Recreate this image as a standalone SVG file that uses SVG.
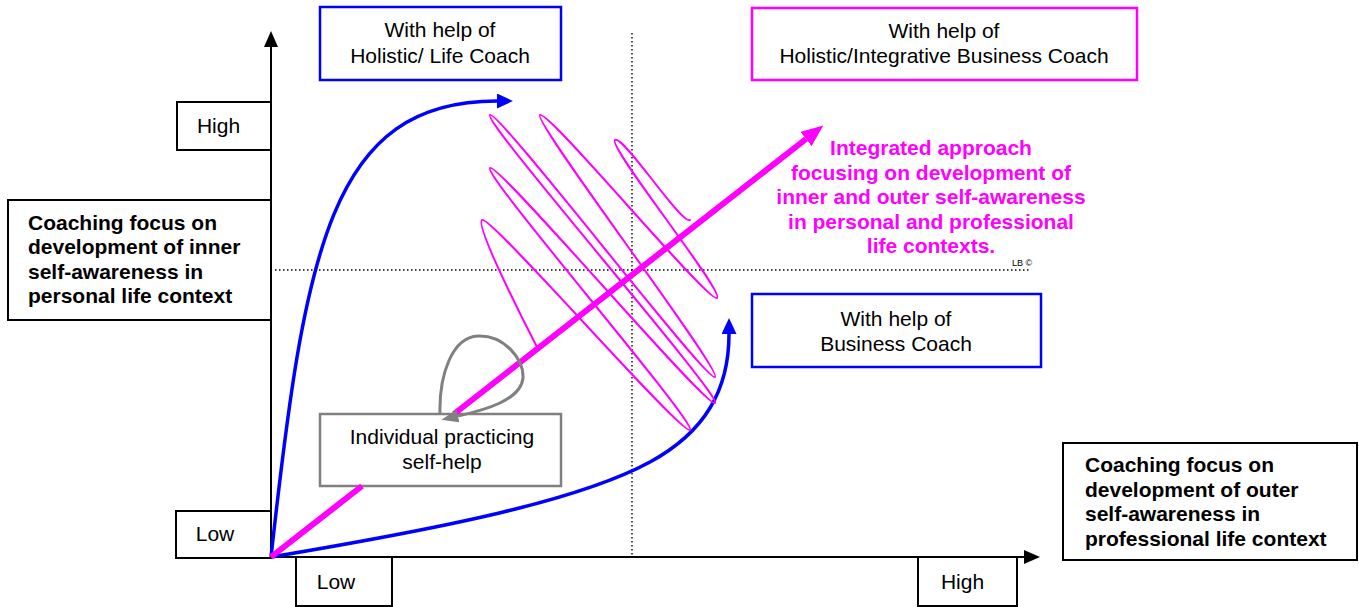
<svg xmlns="http://www.w3.org/2000/svg" width="1359" height="607" viewBox="0 0 1359 607">
<style>
text { font-family: "Liberation Sans", Arial, sans-serif; font-size: 21px; fill: #000; }
.c { text-anchor: middle; }
.b { font-weight: bold; }
.mt { fill: #FF00FF; }
.box { fill: #fff; stroke: #000; stroke-width: 2; }
.bbox { fill: #fff; stroke: #0000FF; stroke-width: 2.5; }
.mbox { fill: #fff; stroke: #FF00FF; stroke-width: 2.5; }
.gbox { fill: #fff; stroke: #808080; stroke-width: 2.5; }
.axis { stroke: #000; stroke-width: 2; fill: none; }
.dot { stroke: #000; stroke-width: 1.4; stroke-dasharray: 1.5 2.5; fill: none; }
.blue { stroke: #0000FF; stroke-width: 3.5; fill: none; }
.mag { stroke: #FF00FF; stroke-width: 6; fill: none; }
.scribble { stroke: #FF00FF; stroke-width: 2; fill: none; stroke-linejoin: round; stroke-linecap: round; }
.gray { stroke: #808080; stroke-width: 3; fill: none; }
.small { font-size: 9px; }
</style>
<defs>
<marker id="ah-black" markerUnits="userSpaceOnUse" viewBox="0 0 16 14" refX="0" refY="7" markerWidth="16" markerHeight="14" orient="auto"><path d="M0,0 L16,7 L0,14 z" fill="#000"/></marker>
<marker id="ah-blue" markerUnits="userSpaceOnUse" viewBox="0 0 16 15" refX="0" refY="7.5" markerWidth="16" markerHeight="15" orient="auto"><path d="M0,0 L16,7.5 L0,15 z" fill="#0000FF"/></marker>
<marker id="ah-mag" markerUnits="userSpaceOnUse" viewBox="0 0 22 18" refX="0" refY="9" markerWidth="22" markerHeight="18" orient="auto"><path d="M0,0 L22,9 L0,18 z" fill="#FF00FF"/></marker>
<marker id="ah-gray" markerUnits="userSpaceOnUse" viewBox="0 0 17 13" refX="0" refY="6.5" markerWidth="17" markerHeight="13" orient="auto"><path d="M0,0 L17,6.5 L0,13 z" fill="#808080"/></marker>
</defs>
<rect width="1359" height="607" fill="#fff"/>
<g id="grid">
<line class="dot" x1="632" y1="33" x2="632" y2="557"/>
<line class="dot" x1="275" y1="270" x2="1030" y2="270"/>
<line class="axis" x1="271" y1="558" x2="271" y2="47" marker-end="url(#ah-black)"/>
<line class="axis" x1="271" y1="557" x2="1024" y2="557" marker-end="url(#ah-black)"/>
</g>
<g id="node-life-coach">
<rect class="bbox" x="320" y="7" width="241" height="73"/>
<text class="c" x="440" y="37">With help of</text>
<text class="c" x="440" y="62.5">Holistic/ Life Coach</text>
</g>
<g id="node-integrative-coach">
<rect class="mbox" x="752" y="8" width="385" height="72"/>
<text class="c" x="944" y="37.5">With help of</text>
<text class="c" x="944" y="63">Holistic/Integrative Business Coach</text>
</g>
<g id="node-business-coach">
<rect class="bbox" x="752" y="294" width="289" height="73"/>
<text class="c" x="896" y="325.5">With help of</text>
<text class="c" x="896" y="350.5">Business Coach</text>
</g>
<g id="node-self-help">
<rect class="gbox" x="320" y="414" width="241" height="72"/>
<text class="c" x="442" y="444">Individual practicing</text>
<text class="c" x="442" y="469">self-help</text>
</g>
<g id="node-high-y">
<rect class="box" x="177" y="102" width="94" height="48"/>
<text class="c" x="218.5" y="133">High</text>
</g>
<g id="node-low-y">
<rect class="box" x="176" y="511" width="95" height="47"/>
<text class="c" x="215" y="541">Low</text>
</g>
<g id="node-low-x">
<rect class="box" x="296" y="557" width="96" height="49"/>
<text class="c" x="336" y="589">Low</text>
</g>
<g id="node-high-x">
<rect class="box" x="918" y="557" width="99" height="49"/>
<text class="c" x="962.5" y="589">High</text>
</g>
<g id="node-inner">
<rect class="box" x="8" y="200" width="263" height="120"/>
<text class="b" x="28" y="229.5">Coaching focus on</text>
<text class="b" x="28" y="254">development of inner</text>
<text class="b" x="28" y="278.5">self-awareness in</text>
<text class="b" x="28" y="303">personal life context</text>
</g>
<g id="node-outer">
<rect class="box" x="1063" y="443" width="294" height="117"/>
<text class="b" x="1085" y="472">Coaching focus on</text>
<text class="b" x="1085" y="496.5">development of outer</text>
<text class="b" x="1085" y="521">self-awareness in</text>
<text class="b" x="1085" y="546">professional life context</text>
</g>
<g id="node-integrated">
<text class="b c mt" x="931" y="155">Integrated approach</text>
<text class="b c mt" x="931" y="179.5">focusing on development of</text>
<text class="b c mt" x="931" y="204">inner and outer self-awareness</text>
<text class="b c mt" x="931" y="228.5">in personal and professional</text>
<text class="b c mt" x="931" y="253">life contexts.</text>
<text class="small" x="1012" y="266">LB ©</text>
</g>
<g id="connectors">
<path class="blue" d="M271,557 C305,250 330,101 497,101" marker-end="url(#ah-blue)"/>
<path class="blue" d="M271,557 C450,527 580,500 650,462 C705,432 729,390 729,334" marker-end="url(#ah-blue)"/>
<path class="scribble" d="M690,220 C682,226 623,134 615,140 C607,146 725,292 717,298 C709,304 548,109 540,115 C532,121 723,371 715,377 C707,383 498,109 490,115 C482,121 723,397 715,403 C707,409 498,162 490,168 C482,174 698,424 690,430 C682,436 490,214 482,220 C474,226 537,347 537,347"/>
<path class="mag" d="M271,557 L362,486 M454,414 L806,139" marker-end="url(#ah-mag)"/>
<path class="gray" d="M440,414 C439,375 452,337 478,336 C505,335 524,360 523,378 C521,400 485,410 458,416" marker-end="url(#ah-gray)"/>
</g>
</svg>
